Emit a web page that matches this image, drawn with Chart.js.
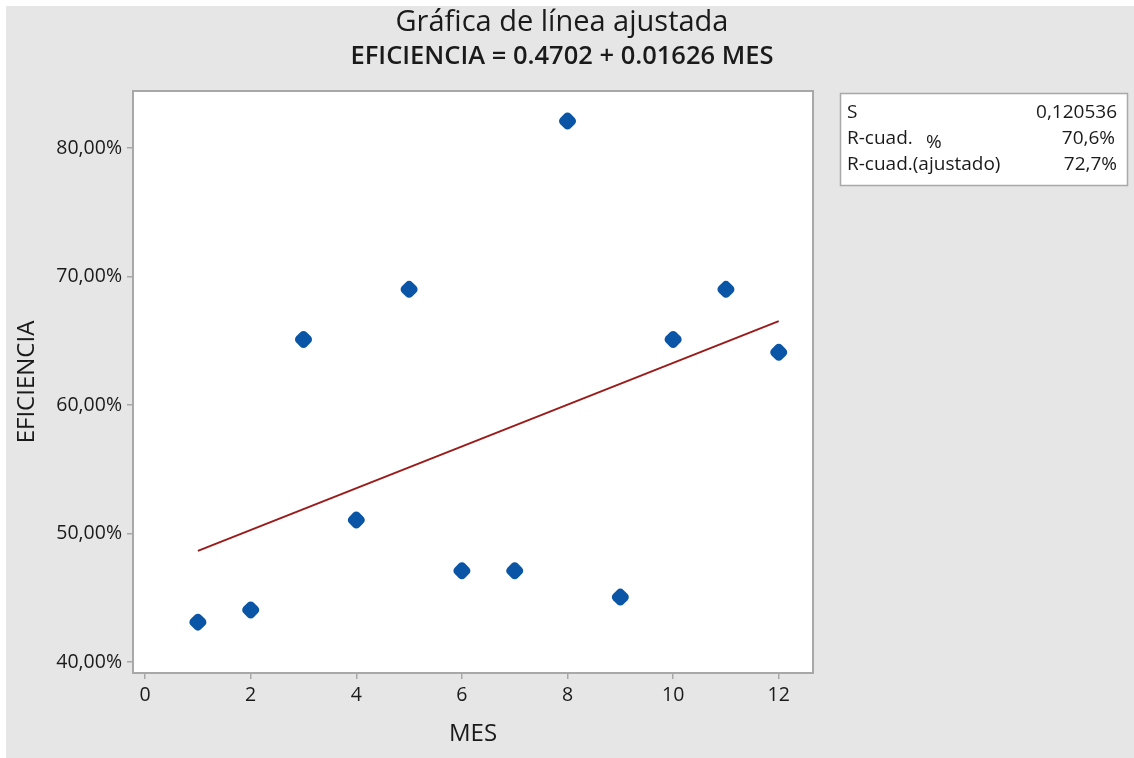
<!DOCTYPE html>
<html><head><meta charset="utf-8">
<script src="https://cdn.jsdelivr.net/npm/chart.js@4/dist/chart.umd.min.js"></script>
<style>html,body{margin:0;padding:0;background:#e6e6e6;}#wrap{width:1134px;height:758px;position:relative;}</style>
</head><body><div id="wrap"><canvas id="c" width="1134" height="758"></canvas></div>
<script>
const meses = [1,2,3,4,5,6,7,8,9,10,11,12];
const eficiencia = [43.1,44.05,65.1,51.05,69.0,47.1,47.1,82.1,45.05,65.1,69.0,64.1];
const fitX = [1,12];
const fitY = [48.65,66.53];
const yTicks = [40,50,60,70,80];
const xTicks = [0,2,4,6,8,10,12];
const titleText = 'Gráfica de línea ajustada';
const subtitleText = 'EFICIENCIA = 0.4702 + 0.01626 MES';
const statLabels = ['S','R-cuad.','R-cuad.(ajustado)'];
const statValues = ['0,120536','70,6%','72,7%'];

const FONT = '"Open Sans", "Noto Sans", sans-serif';

const deco = {
  id:'deco',
  beforeDraw(chart){
    const ctx = chart.ctx;
    ctx.save();
    ctx.fillStyle = '#ffffff';
    ctx.fillRect(0,0,chart.width,chart.height);
    ctx.fillStyle = '#e6e6e6';
    ctx.fillRect(6,6,chart.width-6,chart.height-6);
    const a = chart.chartArea;
    ctx.fillStyle = '#ffffff';
    ctx.fillRect(a.left,a.top,a.right-a.left,a.bottom-a.top);
    ctx.restore();
  },
  afterDraw(chart){
    const ctx = chart.ctx;
    const a = chart.chartArea;
    ctx.save();
    ctx.strokeStyle = '#a8a8a8';
    ctx.lineWidth = 2;
    ctx.strokeRect(a.left-1,a.top-1,a.right-a.left+2,a.bottom-a.top+2);
    ctx.fillStyle = '#1a1a1a';
    ctx.textAlign = 'center';
    ctx.textBaseline = 'middle';
    ctx.font = '29px ' + FONT;
    ctx.fillText(titleText, 562, 23);
    ctx.font = '600 25.5px ' + FONT;
    ctx.fillText(subtitleText, 562, 57);
    // stats box
    ctx.fillStyle = '#ffffff';
    ctx.fillRect(840,93,288,93);
    ctx.strokeStyle = '#a8a8a8';
    ctx.lineWidth = 1.5;
    ctx.strokeRect(840.5,93.5,287,92);
    ctx.fillStyle = '#1a1a1a';
    ctx.font = '19px ' + FONT;
    ctx.textAlign = 'left';
    const rows = [113,139,165];
    statLabels.forEach((t,i)=>ctx.fillText(t,847,rows[i]));
    ctx.fillText('%',926,143);
    ctx.textAlign = 'right';
    const rx = [1117,1115,1117];
    statValues.forEach((t,i)=>ctx.fillText(t,rx[i],rows[i]));
    ctx.restore();
  }
};

new Chart(document.getElementById('c'),{
  type:'scatter',
  data:{datasets:[
    {type:'line',data:fitX.map((x,i)=>({x:x,y:fitY[i]})),borderColor:'#9b1b1b',borderWidth:2,pointRadius:0,fill:false,order:2},
    {data:meses.map((m,i)=>({x:m,y:eficiencia[i]})),backgroundColor:'#0a55a6',borderColor:'#0a55a6',borderWidth:0,pointStyle:'rectRounded',rotation:45,pointRadius:8.5,pointHoverRadius:8.5,order:1}
  ]},
  plugins:[deco],
  options:{
    responsive:false,animation:false,
    layout:{padding:{left:6,top:92,right:322,bottom:0}},
    plugins:{legend:{display:false},tooltip:{enabled:false},title:{display:false}},
    scales:{
      x:{type:'linear',min:-0.21,max:12.63,
        afterBuildTicks(s){s.ticks=xTicks.map(v=>({value:v}));},
        afterFit(s){s.height=86;},
        grid:{drawOnChartArea:false,drawTicks:true,tickLength:7,color:'#a8a8a8',lineWidth:1.5},
        border:{display:false},
        ticks:{color:'#1a1a1a',font:{family:FONT,size:19.5},padding:5,maxRotation:0},
        title:{display:true,text:'MES',color:'#1a1a1a',font:{family:FONT,size:24},padding:{top:0,bottom:9}}
      },
      y:{type:'linear',min:39.22,max:84.36,
        afterBuildTicks(s){s.ticks=yTicks.map(v=>({value:v}));},
        afterFit(s){s.width=128;},
        grid:{drawOnChartArea:false,drawTicks:true,tickLength:7,color:'#a8a8a8',lineWidth:1.5},
        border:{display:false},
        ticks:{color:'#1a1a1a',font:{family:FONT,size:19.5},padding:5,callback:v=>v.toFixed(2).replace('.',',')+'%'},
        title:{display:true,text:'EFICIENCIA',color:'#1a1a1a',font:{family:FONT,size:24},padding:{top:6.5,bottom:0}}
      }
    }
  }
});
</script></body></html>
